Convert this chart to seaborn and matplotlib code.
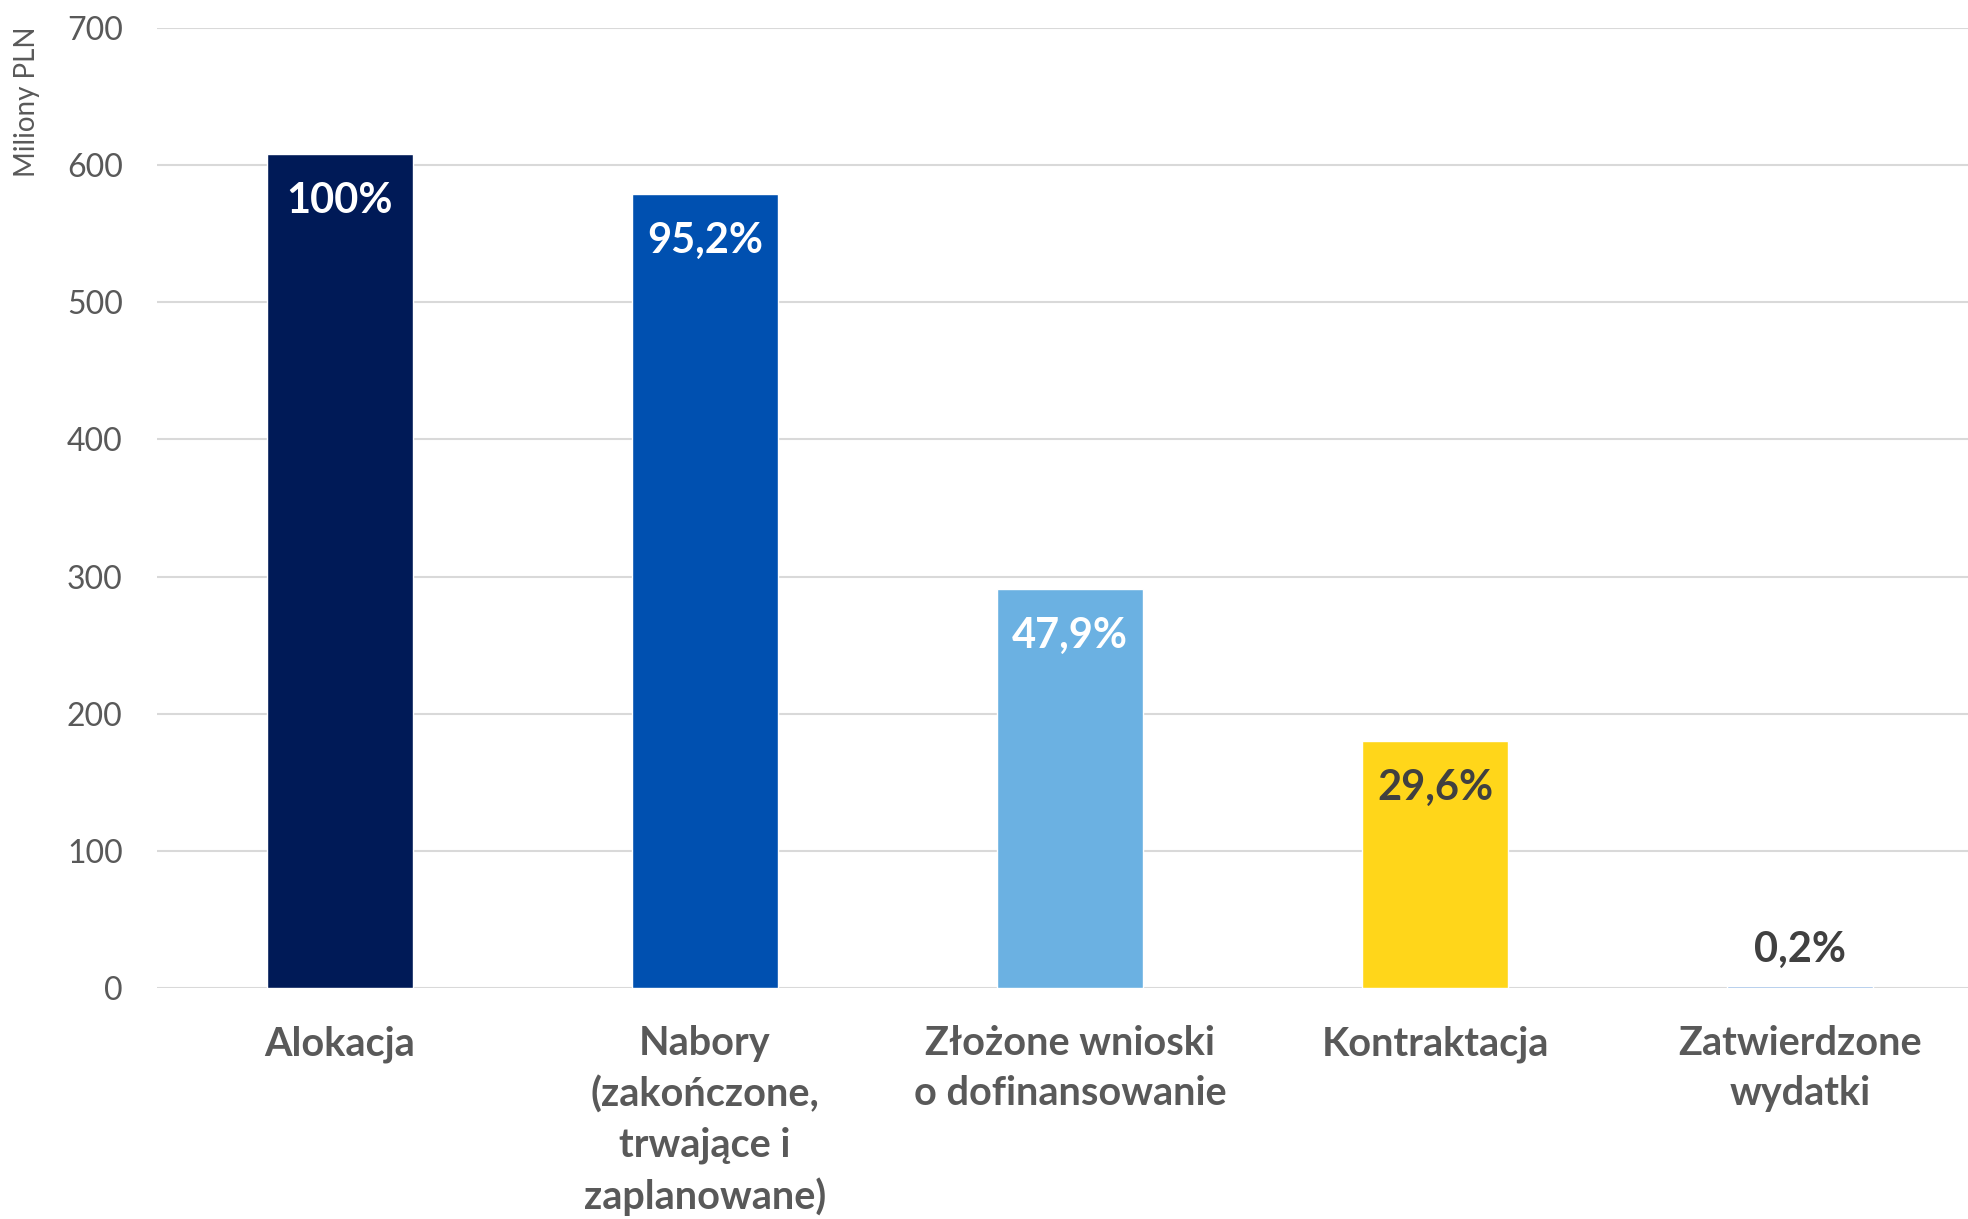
import matplotlib.pyplot as plt
import numpy as np
import pandas as pd
import seaborn as sns

categories = [
    "Alokacja",
    "Nabory\n(zakończone,\ntrwające i\nzaplanowane)",
    "Złożone wnioski\no dofinansowanie",
    "Kontraktacja",
    "Zatwierdzone\nwydatki",
]
values = [608, 579, 291, 180, 1.2]
shares = ["100%", "95,2%", "47,9%", "29,6%", "0,2%"]
colors = ["#001A57", "#0050B0", "#6BB1E2", "#FFD61A", "#8EB4E3"]
label_colors = ["white", "white", "white", "#404040", "#404040"]

df = pd.DataFrame({"etap": categories, "mln": values})

sns.set_theme(style="white")
plt.rcParams["font.family"] = ["Lato", "DejaVu Sans"]

fig = plt.figure(figsize=(19.68, 12.19), dpi=100)
ax = fig.add_axes([0.080, 0.1895, 0.92, 0.7875])

sns.barplot(
    data=df, x="etap", y="mln", hue="etap", palette=colors,
    legend=False, width=0.40, saturation=1, ax=ax,
)

ax.set_ylim(0, 700)
ax.set_xlim(-0.5, 4.46)
ax.set_yticks(np.arange(0, 701, 100))
ax.yaxis.grid(True, color="#D9D9D9", linewidth=1.5)
ax.set_axisbelow(True)
for s in ax.spines.values():
    s.set_visible(False)
ax.axhline(0, color="#D9D9D9", linewidth=1.8, zorder=0.5)

ax.tick_params(axis="y", labelsize=23, labelcolor="#595959", length=0, pad=25)
ax.tick_params(axis="x", labelsize=28.5, labelcolor="#595959", length=0, pad=27)
for t in ax.get_xticklabels():
    t.set_fontweight("bold")
    t.set_linespacing(1.43)

ax.set_xlabel(None)
ax.set_ylabel("Miliony PLN", fontsize=20, color="#595959")
ax.yaxis.set_label_coords(-0.065, 0.923)

# etykiety z udziałem procentowym
for i, (v, s) in enumerate(zip(values, shares)):
    if v > 50:
        ax.annotate(s, xy=(i, v), xytext=(0, -47), textcoords="offset pixels",
                    ha="center", va="center", fontsize=30, fontweight="bold",
                    color=label_colors[i])
    else:
        ax.annotate(s, xy=(i, v), xytext=(0, 36), textcoords="offset pixels",
                    ha="center", va="center", fontsize=30, fontweight="bold",
                    color=label_colors[i])

fig.savefig("out.png", dpi=100, facecolor="white")
